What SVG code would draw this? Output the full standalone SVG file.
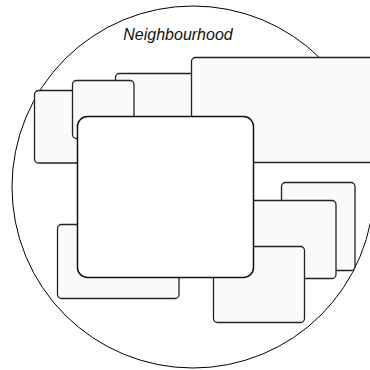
<svg xmlns="http://www.w3.org/2000/svg" width="370" height="370" viewBox="0 0 370 370">
<style>
.area{fill:#ffffff;stroke:#000;stroke-width:1}
.win{fill:#fafafa;stroke:#222;stroke-width:1.3}
.main{fill:#ffffff;stroke:#111;stroke-width:1.5}
.lbl{font-family:"Liberation Sans",Arial,sans-serif;font-size:16px;font-style:italic;fill:#111}
</style>
<g id="neighbourhood">
<circle class="area" cx="193" cy="187" r="181"/>
<text class="lbl" x="178" y="40" text-anchor="middle">Neighbourhood</text>
</g>
<g id="connectors"></g>
<g id="w1"><rect class="win" x="34.5" y="90.5" width="70" height="72.5" rx="4"/></g>
<g id="w3"><rect class="win" x="115.5" y="73.5" width="100" height="60" rx="4"/></g>
<g id="w2"><rect class="win" x="72.5" y="80.5" width="61.5" height="58" rx="4"/></g>
<g id="w4"><rect class="win" x="191.5" y="57.5" width="200" height="105" rx="4"/></g>
<g id="w6"><rect class="win" x="57.5" y="224.5" width="121.5" height="74" rx="4"/></g>
<g id="w7"><rect class="win" x="281.5" y="182.5" width="73.5" height="88" rx="4"/></g>
<g id="w8"><rect class="win" x="230.5" y="200.5" width="105.5" height="78" rx="4"/></g>
<g id="w9"><rect class="win" x="213.5" y="246.5" width="91" height="76" rx="4"/></g>
<g id="main"><rect class="main" x="77.5" y="116.5" width="176" height="161" rx="10"/></g>
</svg>
